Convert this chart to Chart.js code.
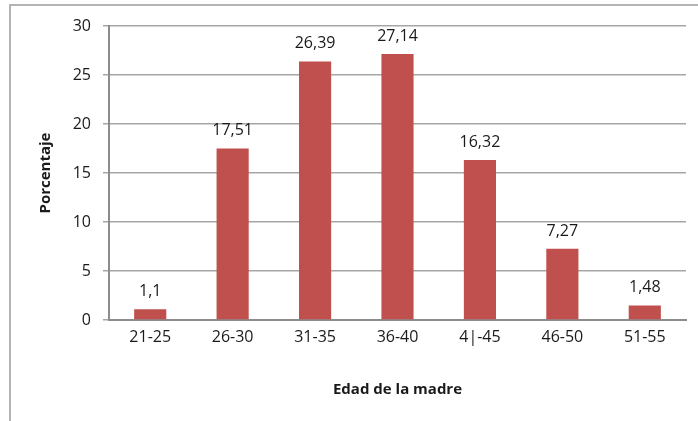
<!DOCTYPE html>
<html>
<head>
<meta charset="utf-8">
<script src="https://cdn.jsdelivr.net/npm/chart.js@4"></script>
<style>
    html, body { margin: 0; padding: 0; background: #fff; }
    #wrap { position: relative; width: 698px; height: 421px; overflow: hidden; }
    #frame { position: absolute; left: 9px; top: 4px; width: 800px; height: 500px;
             border-top: 2px solid #b4b4b4; border-left: 2px solid #b4b4b4; }
    canvas { position: absolute; left: 0; top: 0; }
</style>
</head>
<body>
<div id="wrap">
    <div id="frame"></div>
    <canvas id="chart" width="698" height="421"></canvas>
</div>
<script>
const categories = ['21-25', '26-30', '31-35', '36-40', '4|-45', '46-50', '51-55'];
const porcentajes = [1.1, 17.51, 26.39, 27.14, 16.32, 7.27, 1.48];
const yTicks = [0, 5, 10, 15, 20, 25, 30];

const FONT = '"Open Sans", sans-serif';

// etiquetas encima de cada barra
const barLabels = {
    id: 'barLabels',
    afterDatasetsDraw(chart) {
        const ctx = chart.ctx;
        const meta = chart.getDatasetMeta(0);
        ctx.save();
        ctx.font = '16px ' + FONT;
        ctx.fillStyle = '#1a1a1a';
        ctx.textAlign = 'center';
        ctx.textBaseline = 'alphabetic';
        meta.data.forEach((bar, i) => {
            const txt = String(porcentajes[i]).replace('.', ',');
            ctx.fillText(txt, bar.x, bar.y - 13);
        });
        ctx.restore();
    }
};

const ctx = document.getElementById('chart').getContext('2d');
const chart = new Chart(ctx, {
    type: 'bar',
    data: {
        labels: categories,
        datasets: [{
            data: porcentajes,
            backgroundColor: '#c0504d',
            borderWidth: 0,
            categoryPercentage: 1,
            barPercentage: 0.39
        }]
    },
    options: {
        responsive: false,
        animation: false,
        layout: { padding: { left: 0, right: 12, top: 26, bottom: 0 } },
        plugins: { legend: { display: false }, tooltip: { enabled: false } },
        scales: {
            x: {
                grid: { display: false, drawTicks: false },
                border: { display: true, color: '#8c8c8c', width: 2 },
                ticks: { color: '#1a1a1a', font: { family: FONT, size: 16 }, padding: 8, maxRotation: 0 },
                title: { display: true, text: 'Edad de la madre', color: '#1a1a1a',
                         font: { family: FONT, size: 15, weight: 'bold' }, padding: { top: 0, bottom: 22 } },
                afterFit: s => { s.height = 101; }
            },
            y: {
                min: 0,
                max: 30,
                afterBuildTicks: s => { s.ticks = yTicks.map(v => ({ value: v })); },
                grid: { color: '#a6a6a6', lineWidth: 1.5, tickLength: 6 },
                border: { display: true, color: '#8c8c8c', width: 2 },
                ticks: { color: '#1a1a1a', font: { family: FONT, size: 16 }, padding: 12 },
                title: { display: true, text: 'Porcentaje', color: '#1a1a1a',
                         font: { family: FONT, size: 15, weight: 'bold' }, padding: { top: 37, bottom: 0 } },
                afterFit: s => { s.width = 109; }
            }
        }
    },
    plugins: [barLabels]
});
</script>
</body>
</html>
